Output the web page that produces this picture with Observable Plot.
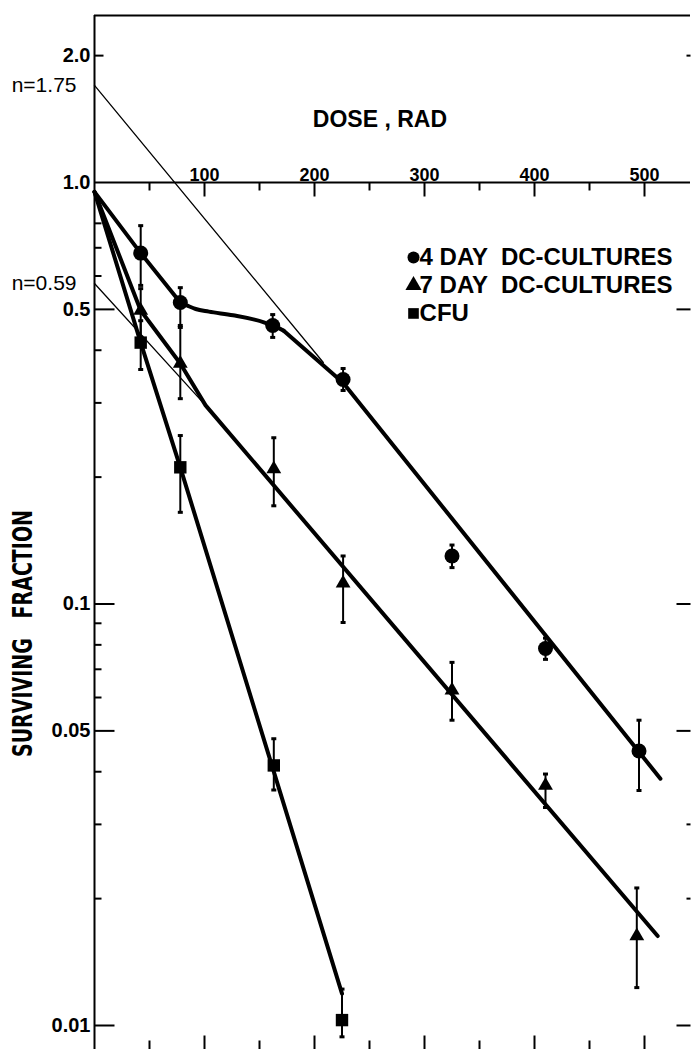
<!DOCTYPE html>
<html><head><meta charset="utf-8">
<script src="https://cdn.jsdelivr.net/npm/d3@7"></script>
<script src="https://cdn.jsdelivr.net/npm/@observablehq/plot@0.6"></script>
<style>
html,body{margin:0;padding:0;background:#fff;}
#chart svg{display:block;}
#chart svg text{white-space:pre;}
</style></head><body><div id="chart"></div>
<script>
// ---------- data ----------
// 4 day DC-cultures (circles)
const dose4 = [42, 78, 162, 226, 325, 410, 495];
const surv4 = [0.68, 0.519, 0.458, 0.341, 0.130, 0.0784, 0.0448];
const lo4   = [0.57, 0.458, 0.429, 0.321, 0.122, 0.0739, 0.0361];
const hi4   = [0.79, 0.563, 0.486, 0.362, 0.138, 0.083, 0.053];
// 7 day DC-cultures (triangles)
const dose7 = [42, 78, 163, 226, 325, 410, 493];
const surv7 = [0.497, 0.372, 0.209, 0.112, 0.0624, 0.0371, 0.0163];
const lo7   = [0.43, 0.307, 0.171, 0.0904, 0.053, 0.0329, 0.0123];
const hi7   = [0.56, 0.453, 0.248, 0.130, 0.0727, 0.0395, 0.0212];
// CFU (squares)
const doseCFU = [42, 78, 163, 225];
const survCFU = [0.417, 0.211, 0.0414, 0.0103];
const loCFU   = [0.36, 0.165, 0.0362, 0.0094];
const hiCFU   = [0.47, 0.251, 0.0479, 0.0122];

// drawn curves
const curve4Dose = [0, 42, 78, 84, 92, 104, 126, 154, 162, 172, 226, 514.5];
const curve4Surv = [0.95, 0.68, 0.519, 0.511, 0.501, 0.494, 0.484, 0.466, 0.458, 0.445, 0.335, 0.0385];
const curve7Dose = [0, 42, 78, 101, 512];
const curve7Surv = [0.95, 0.497, 0.372, 0.296, 0.0163];
const curveCFUDose = [0, 42, 78, 225];
const curveCFUSurv = [0.95, 0.417, 0.211, 0.0119];
// extrapolation lines
const extrapADose = [0, 208];
const extrapASurv = [1.70, 0.374];
const extrapBDose = [0, 101];
const extrapBSurv = [0.576, 0.296];

// ticks and labels
const xMajor = [100, 200, 300, 400, 500];
const xMinor = [50, 150, 250, 350, 450];
const xLabels = ["100", "200", "300", "400", "500"];
const yLabelVals = [2.0, 1.0, 0.5, 0.1, 0.05, 0.01];
const yLabels = ["2.0", "1.0", "0.5", "0.1", "0.05", "0.01"];
const yLeftMajor = [0.5, 0.1, 0.05, 0.01];
const yLeftShort = [2.0];
const yLeftMinor = [0.8, 0.7, 0.6, 0.4, 0.3, 0.2, 0.09, 0.08, 0.07, 0.06, 0.04, 0.03, 0.02];
const yRightMajor = [0.5, 0.1, 0.05, 0.01];
const yRightMinor = [2.0, 0.03, 0.02];
const nLabels = ["n=1.75", "n=0.59"];
const nLabelVals = [1.70, 0.576];
const legendLabels = ["4 DAY  DC-CULTURES", "7 DAY  DC-CULTURES", "CFU"];
const legendSymbols = ["circle", "triangle", "square"];
const yTitle = "SURVIVING   FRACTION";

// ---------- build tables ----------
const pts = (d, s, lo, hi, series) => d.map((x, i) => ({dose: x, s: s[i], lo: lo[i], hi: hi[i], series}));
const p4 = pts(dose4, surv4, lo4, hi4, "4day");
const p7 = pts(dose7, surv7, lo7, hi7, "7day");
const pC = pts(doseCFU, survCFU, loCFU, hiCFU, "cfu");
const allPts = [...p4, ...p7, ...pC];
const curve = (d, s) => d.map((x, i) => ({dose: x, s: s[i]}));
const c4 = curve(curve4Dose, curve4Surv);

const seg = (x1, y1, x2, y2) => ({draw(ctx) { ctx.moveTo(x1, y1); ctx.lineTo(x2, y2); }});

const W = 691, H = 1049;
const mL = 94, mR = 1, mT = 15, mB = 0;
const decade = 421.5;                       // px per decade
const yTop = Math.pow(10, (182 - mT) / decade);
const yBot = Math.pow(10, -(H - 182) / decade);
const xMax = (W - mR - mL) / 1.1;

const bold = "'Liberation Sans', Arial, sans-serif";
const narrow = "'Liberation Sans Narrow', 'DejaVu Sans Condensed', sans-serif";

const legendData = legendLabels.map((t, i) => ({t, sym: legendSymbols[i], y: [0.664, 0.570, 0.489][i]}));
const thick = {x: "dose", y: "s", stroke: "black", strokeWidth: 4, strokeLinecap: "round", strokeLinejoin: "round"};

const chart = Plot.plot({
  width: W, height: H,
  marginLeft: mL, marginRight: mR, marginTop: mT, marginBottom: mB,
  x: {domain: [0, xMax], axis: null},
  y: {type: "log", domain: [yBot, yTop], axis: null},
  style: {background: "white", overflow: "visible"},
  marks: [
    // frame
    Plot.ruleY([yTop], {stroke: "black", strokeWidth: 2}),
    Plot.ruleX([0], {stroke: "black", strokeWidth: 2}),
    Plot.ruleY([1], {stroke: "black", strokeWidth: 2}),
    // x ticks on the 1.0 line
    Plot.dot(xMajor, {x: d => d, y: () => 1, symbol: seg(0, 0, 0, 14), stroke: "black", fill: "none", strokeWidth: 2}),
    Plot.dot(xMinor, {x: d => d, y: () => 1, symbol: seg(0, 0, 0, 8), stroke: "black", fill: "none", strokeWidth: 2}),
    // bottom ticks
    Plot.dot(xMajor, {x: d => d, frameAnchor: "bottom", symbol: seg(0, 0, 0, -14), stroke: "black", fill: "none", strokeWidth: 2}),
    Plot.dot(xMinor, {x: d => d, frameAnchor: "bottom", symbol: seg(0, 0, 0, -9), stroke: "black", fill: "none", strokeWidth: 2}),
    // left ticks
    Plot.dot(yLeftMajor, {y: d => d, frameAnchor: "left", symbol: seg(0, 0, 20, 0), stroke: "black", fill: "none", strokeWidth: 2}),
    Plot.dot(yLeftShort, {y: d => d, frameAnchor: "left", symbol: seg(0, 0, 9, 0), stroke: "black", fill: "none", strokeWidth: 2}),
    Plot.dot(yLeftMinor, {y: d => d, frameAnchor: "left", symbol: seg(0, 0, 7, 0), stroke: "black", fill: "none", strokeWidth: 2}),
    // right ticks
    Plot.dot(yRightMajor, {y: d => d, frameAnchor: "right", symbol: seg(0, 0, -14, 0), stroke: "black", fill: "none", strokeWidth: 2}),
    Plot.dot(yRightMinor, {y: d => d, frameAnchor: "right", symbol: seg(0, 0, -4, 0), stroke: "black", fill: "none", strokeWidth: 2}),
    // extrapolation lines
    Plot.line(curve(extrapADose, extrapASurv), {x: "dose", y: "s", stroke: "black", strokeWidth: 1.3}),
    Plot.line(curve(extrapBDose, extrapBSurv), {x: "dose", y: "s", stroke: "black", strokeWidth: 1.3}),
    // survival curves
    Plot.line(c4.filter(d => d.dose <= 78), thick),
    Plot.line(c4.filter(d => d.dose >= 78 && d.dose <= 172), {...thick, curve: "monotone-x"}),
    Plot.line(c4.filter(d => d.dose >= 172), thick),
    Plot.line(curve(curve7Dose, curve7Surv), thick),
    Plot.line(curve(curveCFUDose, curveCFUSurv), thick),
    // error bars
    Plot.ruleX(allPts, {x: "dose", y1: "lo", y2: "hi", stroke: "black", strokeWidth: 2}),
    Plot.dot(allPts, {x: "dose", y: "lo", symbol: seg(-2.5, 0, 2.5, 0), stroke: "black", fill: "none", strokeWidth: 3}),
    Plot.dot(allPts, {x: "dose", y: "hi", symbol: seg(-2.5, 0, 2.5, 0), stroke: "black", fill: "none", strokeWidth: 3}),
    // markers
    Plot.dot(p4, {x: "dose", y: "s", symbol: "circle", r: 7.5, fill: "black", stroke: "none"}),
    Plot.dot(p7, {x: "dose", y: "s", symbol: "triangle", r: 5.5, fill: "black", stroke: "none"}),
    Plot.dot(pC, {x: "dose", y: "s", symbol: "square", r: 7, fill: "black", stroke: "none"}),
    // legend
    Plot.dot(legendData, {x: () => 290, y: "y", symbol: "sym", r: 6, fill: "black", stroke: "none"}),
    Plot.text(legendData, {x: () => 295.5, y: "y", text: "t", textAnchor: "start", fontFamily: bold, fontWeight: "bold", fontSize: 24, fill: "black"}),
    // axis labels
    Plot.text(xMajor, {x: d => d, y: () => 1, text: (d, i) => xLabels[i], dy: -2, lineAnchor: "bottom", fontFamily: bold, fontWeight: "bold", fontSize: 18, fill: "black"}),
    Plot.text(yLabelVals, {y: d => d, frameAnchor: "left", text: (d, i) => yLabels[i], dx: -4, textAnchor: "end", fontFamily: bold, fontWeight: "bold", fontSize: 20, fill: "black"}),
    Plot.text(nLabelVals, {y: d => d, frameAnchor: "left", text: (d, i) => nLabels[i], dx: -18, textAnchor: "end", fontFamily: bold, fontSize: 21, fill: "black"}),
    Plot.text(["DOSE , RAD"], {x: () => 259.5, y: () => 1.41, text: d => d, fontFamily: bold, fontWeight: "bold", fontSize: 23, fill: "black"}),
    Plot.text([yTitle], {y: () => 0.0851, frameAnchor: "left", dx: -71, rotate: -90, textAnchor: "middle", text: d => d, fontFamily: narrow, fontWeight: "bold", fontSize: 27, fill: "black"})
  ]
});
document.getElementById("chart").appendChild(chart);
// fit the rotated axis title to the length it has in the figure
d3.select(chart).selectAll("text").filter(function() { return this.textContent === yTitle; })
  .attr("xml:space", "preserve").attr("textLength", 247).attr("lengthAdjust", "spacingAndGlyphs");
</script>
</body></html>
